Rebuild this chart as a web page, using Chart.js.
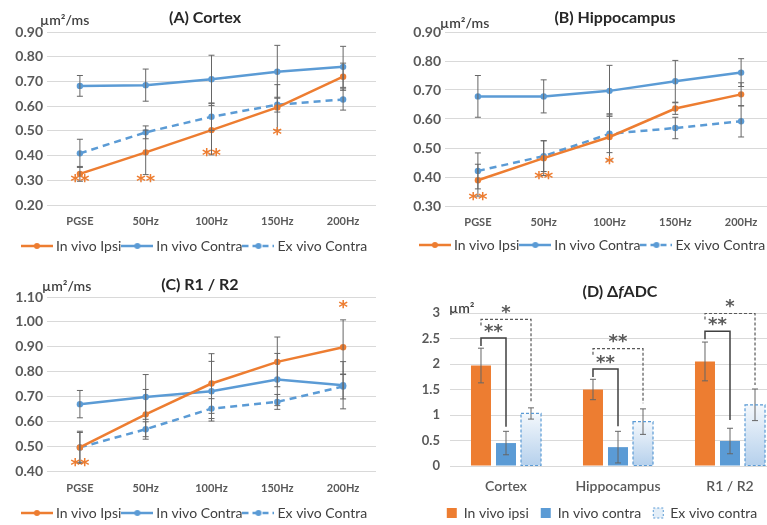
<!DOCTYPE html>
<html>
<head>
<meta charset="utf-8">
<script src="https://cdn.jsdelivr.net/npm/chart.js@4.4.1/dist/chart.umd.min.js"></script>
<style>
  html, body { margin: 0; padding: 0; background: #fff; }
  body { width: 767px; height: 525px; overflow: hidden; position: relative; }
  canvas { position: absolute; }
</style>
</head>
<body>
<canvas id="chartA" width="380" height="270" style="left:0;top:0"></canvas>
<canvas id="chartB" width="398" height="270" style="left:380px;top:0"></canvas>
<canvas id="chartC" width="380" height="270" style="left:0;top:262px"></canvas>
<canvas id="chartD" width="406" height="270" style="left:380px;top:262px"></canvas>
<script>
const ORANGE = '#ED7D31', BLUE = '#5B9BD5', GRID = '#d9d9d9', TICK = '#595959', TEXT = '#404040';
const FONT = 'Lato, "Open Sans", sans-serif';

const freqLabels = ['PGSE', '50Hz', '100Hz', '150Hz', '200Hz'];
const lineNames = ['In vivo Ipsi', 'In vivo Contra', 'Ex vivo Contra'];

// (A) Cortex
const cortexIpsi = [0.326, 0.413, 0.503, 0.595, 0.719];
const cortexContra = [0.682, 0.685, 0.709, 0.739, 0.759];
const cortexEx = [0.409, 0.494, 0.557, 0.606, 0.627];
const cortexIpsiErr = [0.03, 0.09, 0.10, 0.092, 0.055];
const cortexContraErr = [0.042, 0.065, 0.097, 0.107, 0.083];
const cortexExErr = [0.057, 0.026, 0.055, 0.03, 0.043];
const cortexStars = ['**', '**', '**', '*', ''];
const cortexStarAt = [0.29, 0.29, 0.395, 0.482, 0];

// (B) Hippocampus
const hippoIpsi = [0.389, 0.465, 0.538, 0.636, 0.685];
const hippoContra = [0.678, 0.678, 0.697, 0.730, 0.760];
const hippoEx = [0.421, 0.472, 0.549, 0.569, 0.592];
const hippoIpsiErr = [0.055, 0.06, 0.08, 0.02, 0.04];
const hippoContraErr = [0.072, 0.057, 0.088, 0.072, 0.048];
const hippoExErr = [0.062, 0.053, 0.065, 0.037, 0.054];
const hippoStars = ['**', '**', '*', '', ''];
const hippoStarAt = [0.318, 0.393, 0.442, 0, 0];

// (C) R1 / R2
const r12Ipsi = [0.495, 0.628, 0.752, 0.839, 0.898];
const r12Contra = [0.669, 0.698, 0.721, 0.768, 0.745];
const r12Ex = [0.495, 0.568, 0.651, 0.678, 0.740];
const r12IpsiErr = [0.065, 0.10, 0.12, 0.10, 0.11];
const r12ContraErr = [0.055, 0.09, 0.12, 0.105, 0.095];
const r12ExErr = [0.06, 0.03, 0.04, 0.03, 0.05];
const r12Stars = ['**', '', '', '', '*'];
const r12StarAt = [0.42, 0, 0, 0, 1.055];

// (D) delta fADC
const regions = ['Cortex', 'Hippocampus', 'R1 / R2'];
const barNames = ['In vivo ipsi', 'In vivo contra', 'Ex vivo contra'];
const dIpsi = [1.97, 1.50, 2.05];
const dContra = [0.45, 0.37, 0.49];
const dEx = [1.03, 0.87, 1.20];
const dIpsiErr = [0.34, 0.20, 0.38];
const dContraErr = [0.23, 0.31, 0.25];
const dExErr = [0.11, 0.25, 0.31];
// significance brackets: ipsi vs contra (solid), ipsi vs ex vivo (dashed)
const solidLevel = [2.51, 1.90, 2.64];
const solidDrop = [0.77, 0.78, 0.90];
const solidStars = ['**', '**', '**'];
const dashLevel = [2.875, 2.30, 2.99];
const dashDrop = [1.23, 1.23, 1.59];
const dashStars = ['*', '**', '*'];

// little line+dot picture for the line chart legends
function lineIcon(color, dashed) {
  const c = document.createElement('canvas');
  c.width = 32; c.height = 10;
  const g = c.getContext('2d');
  g.strokeStyle = color; g.lineWidth = 2.5;
  if (dashed) g.setLineDash([6, 4]);
  g.beginPath(); g.moveTo(0, 5); g.lineTo(32, 5); g.stroke();
  g.fillStyle = color;
  g.beginPath(); g.arc(16, 5, 3, 0, Math.PI * 2); g.fill();
  return c;
}

const errorBars = {
  id: 'errorBars',
  afterDatasetsDraw(chart) {
    const ctx = chart.ctx, y = chart.scales.y;
    ctx.save();
    ctx.strokeStyle = '#666';
    ctx.lineWidth = 1;
    chart.data.datasets.forEach((ds, di) => {
      if (!ds.errors) return;
      chart.getDatasetMeta(di).data.forEach((el, i) => {
        const v = ds.data[i], e = ds.errors[i];
        const top = y.getPixelForValue(v + e), bot = y.getPixelForValue(v - e);
        ctx.beginPath();
        ctx.moveTo(el.x, top); ctx.lineTo(el.x, bot);
        ctx.moveTo(el.x - 3, top); ctx.lineTo(el.x + 3, top);
        ctx.moveTo(el.x - 3, bot); ctx.lineTo(el.x + 3, bot);
        ctx.stroke();
      });
    });
    ctx.restore();
  }
};

function starMarks(labels, at, color) {
  return {
    id: 'starMarks',
    afterDatasetsDraw(chart) {
      const {ctx, scales: {x, y}} = chart;
      ctx.save();
      ctx.fillStyle = color;
      ctx.font = 'bold 18px "DejaVu Sans"';
      ctx.textAlign = 'center';
      ctx.textBaseline = 'middle';
      labels.forEach((t, i) => {
        if (t) ctx.fillText(t, x.getPixelForValue(i), y.getPixelForValue(at[i]));
      });
      ctx.restore();
    }
  };
}

function panelText(spec) {
  return {
    id: 'panelText',
    afterDraw(chart) {
      const ctx = chart.ctx;
      ctx.save();
      ctx.textBaseline = 'middle';
      ctx.textAlign = 'left';
      ctx.fillStyle = TEXT;
      ctx.font = '600 14px ' + FONT;
      ctx.fillText(spec.unit, spec.unitX, spec.unitY);
      const fonts = spec.title.map(p => (p[1] ? 'italic ' : '') + 'bold 16px ' + FONT);
      let w = 0;
      spec.title.forEach((p, i) => { ctx.font = fonts[i]; w += ctx.measureText(p[0]).width; });
      let x = spec.titleX - w / 2;
      ctx.fillStyle = '#262626';
      spec.title.forEach((p, i) => {
        ctx.font = fonts[i];
        ctx.fillText(p[0], x, spec.titleY);
        x += ctx.measureText(p[0]).width;
      });
      ctx.restore();
    }
  };
}

function lineChart(id, cfg) {
  const colors = [ORANGE, BLUE, BLUE];
  const series = [cfg.ipsi, cfg.contra, cfg.ex];
  const errs = [cfg.ipsiErr, cfg.contraErr, cfg.exErr];
  const icons = [lineIcon(ORANGE, false), lineIcon(BLUE, false), lineIcon(BLUE, true)];
  return new Chart(document.getElementById(id), {
    type: 'line',
    data: {
      labels: freqLabels,
      datasets: series.map((d, i) => ({
        label: lineNames[i],
        data: d,
        errors: errs[i],
        borderColor: colors[i],
        backgroundColor: colors[i],
        borderWidth: 2.5,
        borderDash: i === 2 ? [7, 5] : [],
        pointRadius: 3.2,
        pointBorderWidth: 0,
        pointBackgroundColor: colors[i],
        tension: 0,
        fill: false
      }))
    },
    options: {
      responsive: false,
      animation: false,
      devicePixelRatio: 1,
      layout: { padding: cfg.padding },
      plugins: {
        tooltip: { enabled: false },
        legend: {
          position: 'bottom',
          labels: {
            usePointStyle: true, pointStyleWidth: 24, boxHeight: 10, padding: 4,
            color: TEXT, font: { family: FONT, size: 14 },
            generateLabels: chart => chart.data.datasets.map((ds, i) => ({
              text: ds.label, pointStyle: icons[i], fillStyle: colors[i],
              strokeStyle: colors[i], lineWidth: 0, datasetIndex: i, fontColor: TEXT
            }))
          }
        }
      },
      scales: {
        x: {
          offset: true,
          grid: { display: false, drawTicks: false },
          border: { display: false },
          ticks: { color: TICK, padding: cfg.xPad, font: { family: FONT, size: 11, weight: 'bold' } },
          afterFit: s => { s.height = cfg.xHeight; }
        },
        y: {
          min: cfg.min, max: cfg.max,
          grid: { color: GRID, drawTicks: false },
          border: { display: false },
          ticks: {
            stepSize: 0.1, padding: 4, color: TICK,
            font: { family: FONT, size: 14, weight: 'bold' },
            callback: v => v.toFixed(2)
          },
          afterFit: s => { s.width = cfg.yWidth; }
        }
      }
    },
    plugins: [errorBars, starMarks(cfg.stars, cfg.starAt, ORANGE), panelText(cfg.text)]
  });
}

lineChart('chartA', {
  ipsi: cortexIpsi, contra: cortexContra, ex: cortexEx,
  ipsiErr: cortexIpsiErr, contraErr: cortexContraErr, exErr: cortexExErr,
  stars: cortexStars, starAt: cortexStarAt,
  min: 0.2, max: 0.9,
  padding: { top: 32, left: 12, right: 0, bottom: 7 }, yWidth: 35, xHeight: 30, xPad: 10,
  text: { title: [['(A) Cortex', false]], titleX: 205, titleY: 18, unit: 'µm²/ms', unitX: 40, unitY: 20 }
});

lineChart('chartB', {
  ipsi: hippoIpsi, contra: hippoContra, ex: hippoEx,
  ipsiErr: hippoIpsiErr, contraErr: hippoContraErr, exErr: hippoExErr,
  stars: hippoStars, starAt: hippoStarAt,
  min: 0.3, max: 0.9,
  padding: { top: 32, left: 30, right: 0, bottom: 8 }, yWidth: 35, xHeight: 28, xPad: 10,
  text: { title: [['(B) Hippocampus', false]], titleX: 235, titleY: 18, unit: 'µm²/ms', unitX: 60, unitY: 23 }
});

lineChart('chartC', {
  ipsi: r12Ipsi, contra: r12Contra, ex: r12Ex,
  ipsiErr: r12IpsiErr, contraErr: r12ContraErr, exErr: r12ExErr,
  stars: r12Stars, starAt: r12StarAt,
  min: 0.4, max: 1.1,
  padding: { top: 35, left: 12, right: 0, bottom: 2 }, yWidth: 35, xHeight: 31, xPad: 11,
  text: { title: [['(C) R1 / R2', false]], titleX: 200, titleY: 23, unit: 'µm²/ms', unitX: 42, unitY: 24 }
});

// (D) grouped bars with dashed ex vivo bars and significance brackets
const brackets = {
  id: 'brackets',
  afterDatasetsDraw(chart) {
    const ctx = chart.ctx, y = chart.scales.y;
    const m0 = chart.getDatasetMeta(0), m1 = chart.getDatasetMeta(1), m2 = chart.getDatasetMeta(2);
    ctx.save();
    // dashed outline of the ex vivo bars
    ctx.strokeStyle = BLUE; ctx.lineWidth = 1.2; ctx.setLineDash([3, 2]);
    m2.data.forEach(el => {
      ctx.strokeRect(el.x - el.width / 2, el.y, el.width, el.base - el.y);
    });
    ctx.fillStyle = TICK;
    ctx.font = 'bold 18px "DejaVu Sans"';
    ctx.textAlign = 'center';
    ctx.textBaseline = 'middle';
    regions.forEach((r, i) => {
      const x0 = m0.data[i].x, x1 = m1.data[i].x, x2 = m2.data[i].x;
      const sl = y.getPixelForValue(solidLevel[i]), dl = y.getPixelForValue(dashLevel[i]);
      ctx.strokeStyle = '#404040'; ctx.lineWidth = 1.5; ctx.setLineDash([]);
      ctx.beginPath();
      ctx.moveTo(x0, sl + 8); ctx.lineTo(x0, sl); ctx.lineTo(x1, sl); ctx.lineTo(x1, y.getPixelForValue(solidDrop[i]));
      ctx.stroke();
      ctx.strokeStyle = '#595959'; ctx.lineWidth = 1.2; ctx.setLineDash([3, 2]);
      ctx.beginPath();
      ctx.moveTo(x0, dl + 6); ctx.lineTo(x0, dl); ctx.lineTo(x2, dl); ctx.lineTo(x2, y.getPixelForValue(dashDrop[i]));
      ctx.stroke();
      ctx.fillText(solidStars[i], (x0 + x1) / 2, sl - 6);
      ctx.fillText(dashStars[i], (x0 + x2) / 2, dl - 6);
    });
    ctx.restore();
  }
};

function exFill(c) {
  const chart = c.chart;
  if (!chart.chartArea || c.parsed === undefined) return '#dce9f6';
  const y = chart.scales.y;
  const g = chart.ctx.createLinearGradient(0, y.getPixelForValue(c.parsed.y), 0, y.getPixelForValue(0));
  g.addColorStop(0, '#f4f8fc');
  g.addColorStop(1, '#b5d0ec');
  return g;
}

new Chart(document.getElementById('chartD'), {
  type: 'bar',
  data: {
    labels: regions,
    datasets: [
      { label: barNames[0], data: dIpsi, errors: dIpsiErr, backgroundColor: ORANGE },
      { label: barNames[1], data: dContra, errors: dContraErr, backgroundColor: BLUE },
      { label: barNames[2], data: dEx, errors: dExErr, backgroundColor: exFill }
    ]
  },
  options: {
    responsive: false,
    animation: false,
    devicePixelRatio: 1,
    categoryPercentage: 0.67,
    barPercentage: 0.8,
    layout: { padding: { top: 51, left: 38, right: 0, bottom: 2 } },
    plugins: {
      tooltip: { enabled: false },
      legend: {
        position: 'bottom',
        labels: {
          boxWidth: 10, boxHeight: 10, padding: 12, color: TEXT,
          font: { family: FONT, size: 14 },
          generateLabels: () => barNames.map((t, i) => ({
            text: t,
            fillStyle: [ORANGE, BLUE, '#e3eef8'][i],
            strokeStyle: i === 2 ? BLUE : 'transparent',
            lineWidth: i === 2 ? 1 : 0,
            lineDash: i === 2 ? [2, 2] : [],
            datasetIndex: i,
            fontColor: TEXT
          }))
        }
      }
    },
    scales: {
      x: {
        grid: { display: false, drawTicks: false },
        border: { display: false },
        ticks: { color: TICK, padding: 12, font: { family: FONT, size: 14, weight: '600' } },
        afterFit: s => { s.height = 28; }
      },
      y: {
        min: 0, max: 3,
        grid: { color: GRID, drawTicks: false },
        border: { display: false },
        ticks: {
          stepSize: 0.5, padding: 10, color: TICK,
          font: { family: FONT, size: 13, weight: 'bold' },
          callback: v => String(v)
        },
        afterFit: s => { s.width = 32; }
      }
    }
  },
  plugins: [errorBars, brackets, panelText({
    title: [['(D) Δ', false], ['f', true], ['ADC', false]], titleX: 240, titleY: 30,
    unit: 'µm²', unitX: 69, unitY: 46
  })]
});
</script>
</body>
</html>
